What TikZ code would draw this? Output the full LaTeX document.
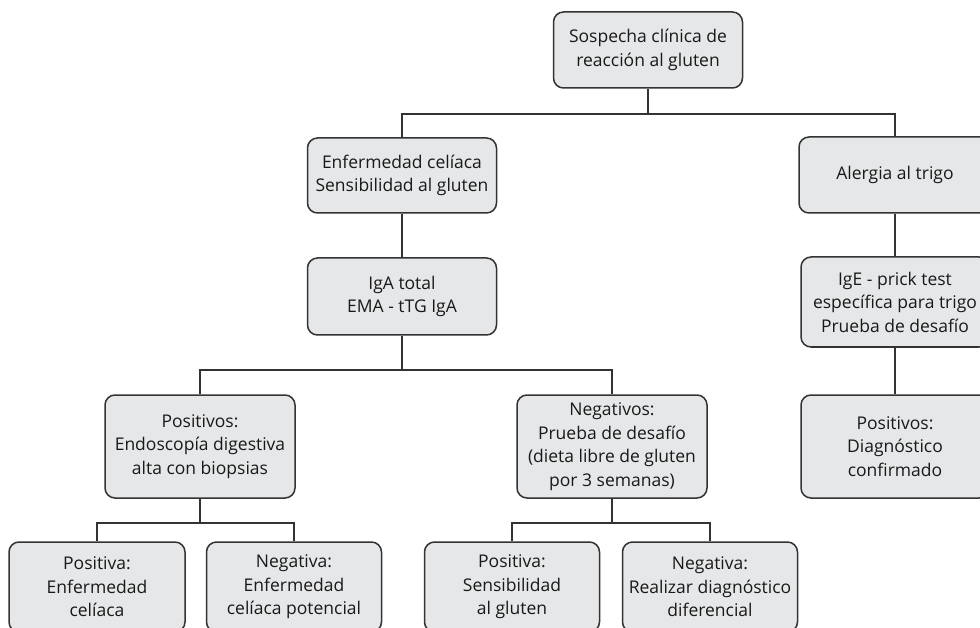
\documentclass[tikz,border=0pt]{standalone}
\usepackage{fontspec}
\setmainfont{Open Sans}
\definecolor{boxfill}{HTML}{E6E7E8}
\definecolor{boxline}{HTML}{333333}
\begin{document}
\begin{tikzpicture}[x=1pt,y=-1pt,
  box/.style={draw=boxline,fill=boxfill,line width=1.5pt,rounded corners=10pt,
    align=center,inner sep=0pt,text=black!90,
    font=\fontsize{17.5}{23.5}\selectfont},
  link/.style={draw=boxline,line width=2pt}]
\useasboundingbox (0,0) rectangle (980,628);
\clip (0,0) rectangle (980,628);
\node[box,minimum width=189pt,minimum height=76pt] (top) at (648,50) {Sospecha clínica de\\reacción al gluten};
\node[box,minimum width=189pt,minimum height=75pt] (enf) at (402,175.5) {Enfermedad celíaca\\Sensibilidad al gluten};
\node[box,minimum width=192pt,minimum height=76pt] (alerg) at (895,175) {Alergia al trigo};
\node[box,minimum width=189pt,minimum height=77pt] (iga) at (402,296.5) {IgA total\\EMA - tTG IgA};
\node[box,minimum width=188pt,minimum height=90pt] (ige) at (895,302) {IgE - prick test\\específica para trigo\\Prueba de desafío};
\node[box,minimum width=190pt,minimum height=103pt] (pos) at (200,446.5) {Positivos:\\Endoscopía digestiva\\alta con biopsias};
\node[box,minimum width=190pt,minimum height=103pt] (neg) at (612,446.5) {Negativos:\\Prueba de desafío\\(dieta libre de gluten\\por 3 semanas)};
\node[box,minimum width=188pt,minimum height=103pt] (posd) at (895,446.5) {Positivos:\\Diagnóstico\\confirmado};
\node[box,minimum width=176pt,minimum height=90pt] (c1) at (97,587) {Positiva:\\Enfermedad\\celíaca};
\node[box,minimum width=175pt,minimum height=90pt] (c2) at (294,587) {Negativa:\\Enfermedad\\celíaca potencial};
\node[box,minimum width=175pt,minimum height=90pt] (c3) at (512,587) {Positiva:\\Sensibilidad\\al gluten};
\node[box,minimum width=175pt,minimum height=90pt] (c4) at (710,587) {Negativa:\\Realizar diagnóstico\\diferencial};
\coordinate (j1) at (648,114);
\coordinate (j2) at (402,370);
\coordinate (j3) at (200,523);
\coordinate (j4) at (612,523);
\draw[link] (top.south) -- (j1);
\draw[link] (enf.north) |- (j1) -| (alerg.north);
\draw[link] (enf.south) -- (iga.north);
\draw[link] (iga.south) -- (j2);
\draw[link] (pos.north) |- (j2) -| (neg.north);
\draw[link] (alerg.south) -- (ige.north);
\draw[link] (ige.south) -- (posd.north);
\draw[link] (pos.south) -- (j3);
\draw[link] (c1.north) |- (j3) -| (c2.north);
\draw[link] (neg.south) -- (j4);
\draw[link] (c3.north) |- (j4) -| (c4.north);
\end{tikzpicture}
\end{document}
